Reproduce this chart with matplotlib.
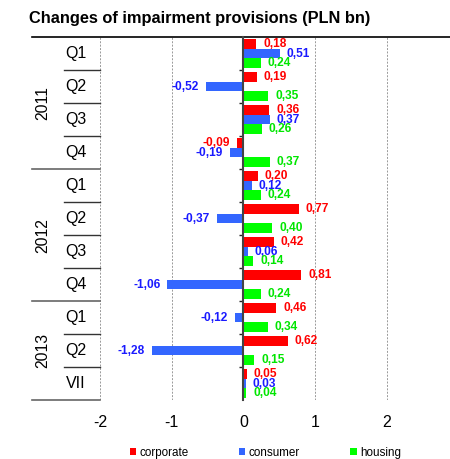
import matplotlib
matplotlib.use("Agg")
import matplotlib.pyplot as plt
from matplotlib.patches import Patch
from matplotlib.transforms import blended_transform_factory

plt.rcParams.update({
    'font.family': ['Liberation Sans', 'DejaVu Sans'],
    'axes.unicode_minus': False,
})

# quarterly changes of impairment provisions, PLN bn
periods = ['Q1', 'Q2', 'Q3', 'Q4', 'Q1', 'Q2', 'Q3', 'Q4', 'Q1', 'Q2', 'VII']
years = ['2011', '2012', '2013']
year_sizes = [4, 4, 3]
corporate = [0.18, 0.19, 0.36, -0.09, 0.20, 0.77, 0.42, 0.81, 0.46, 0.62, 0.05]
consumer = [0.51, -0.52, 0.37, -0.19, 0.12, -0.37, 0.06, -1.06, -0.12, -1.28, 0.03]
housing = [0.24, 0.35, 0.26, 0.37, 0.24, 0.40, 0.14, 0.24, 0.34, 0.15, 0.04]
series_names = ['corporate', 'consumer', 'housing']

bar_colors = ['#FF0000', '#3366FF', '#00FF00']
text_colors = ['#FF0000', '#1A1AFF', '#00E600']

fig = plt.figure(figsize=(4.5, 4.59), dpi=100)
ax = fig.add_axes([0.222, 0.1285, 0.778, 0.7905])

n = len(periods)
h = 0.29
offsets = [-h, 0.0, h]
for vals, off, bc, tc in zip([corporate, consumer, housing], offsets,
                             bar_colors, text_colors):
    ys = [i + off for i in range(n)]
    ax.barh(ys, vals, height=h, color=bc, zorder=3)
    for y, v in zip(ys, vals):
        ax.annotate(f"{v:.2f}".replace('.', ','), (v, y),
                    xytext=(5 if v >= 0 else -5, 0), textcoords='offset points',
                    ha='left' if v >= 0 else 'right', va='center',
                    color=tc, fontsize=8.6, fontweight='bold', zorder=4)

ax.set_xlim(-2, 2.88)
ax.set_ylim(n - 0.5, -0.5)

# dashed vertical gridlines
for x in [-2, -1, 1, 2]:
    ax.axvline(x, color='#999999', linestyle=(0, (2, 1.5)), linewidth=0.7, zorder=1)

for s in ['right', 'bottom', 'top']:
    ax.spines[s].set_visible(False)
ax.spines['left'].set_position(('data', 0))
ax.spines['left'].set_color('#444444')
ax.spines['left'].set_linewidth(1.5)
ax.spines['left'].set_zorder(5)
ax.set_yticks([i + 0.5 for i in range(n - 1)])
ax.set_yticklabels([])
ax.tick_params(axis='y', direction='out', length=3, width=1, color='#222222')

ax.set_xticks([-2, -1, 0, 1, 2])
ax.tick_params(axis='x', length=0, pad=11, labelsize=11.5)

# category labels and separators outside the plot area
tr = blended_transform_factory(fig.transFigure, ax.transData)
x_year, x_q, x_left = 32 / 450, 64 / 450, 100 / 450
for i, p in enumerate(periods):
    ax.text(76 / 450, i, p, transform=tr, ha='center', va='center', fontsize=11.5)

ax.plot([x_year, 1.0], [-0.5, -0.5], transform=tr, color='black',
        linewidth=1.2, clip_on=False)
start = 0
for yr, size in zip(years, year_sizes):
    end = start + size
    ax.text(43 / 450, (start + end - 1) / 2, yr, transform=tr, rotation=90,
            ha='center', va='center', fontsize=11.3)
    for b in range(start + 1, end):
        ax.plot([x_q, x_left], [b - 0.5, b - 0.5], transform=tr,
                color='#333333', linewidth=1.0, clip_on=False)
    ax.plot([x_year, x_left], [end - 0.5, end - 0.5], transform=tr,
            color='#666666', linewidth=1.2, clip_on=False)
    start = end

fig.text(29 / 450, 1 - 18 / 459, 'Changes of impairment provisions (PLN bn)',
         ha='left', va='center', fontsize=11.75, fontweight='bold')

handles = [Patch(facecolor=c, edgecolor='none') for c in bar_colors]
fig.legend(handles, series_names, loc='center', bbox_to_anchor=(0.59, 1 - 453 / 459),
           ncol=3, frameon=False, fontsize=8.4, handlelength=0.55, handleheight=0.55,
           handletextpad=0.3, columnspacing=4.3)

fig.savefig('out.png', dpi=100)
